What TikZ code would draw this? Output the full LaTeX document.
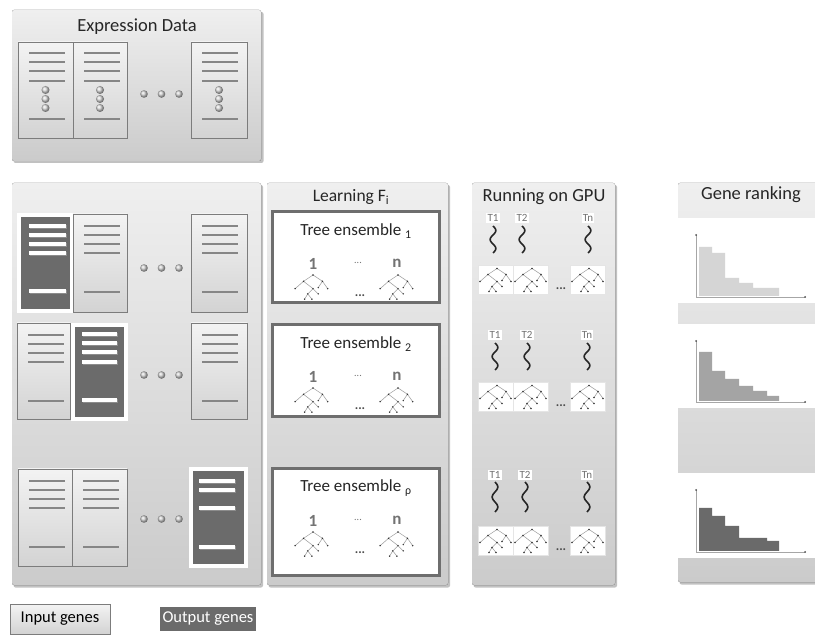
\documentclass[tikz,border=0pt]{standalone}
\usepackage{fontspec}
\setmainfont{Carlito}
\usetikzlibrary{calc}
\definecolor{cardtop}{HTML}{F3F3F3}
\definecolor{cardbot}{HTML}{D3D3D3}
\definecolor{cardedge}{HTML}{7C7C7C}
\definecolor{linegray}{HTML}{868686}
\definecolor{darkcard}{HTML}{6B6B6B}
\definecolor{paneltop}{HTML}{EFEFEF}
\definecolor{panelbot}{HTML}{CBCBCB}
\definecolor{shadowc}{HTML}{A8A8A8}
\definecolor{ensedge}{HTML}{6E6E6E}
\definecolor{barA}{HTML}{D5D5D5}
\definecolor{barB}{HTML}{A4A4A4}
\definecolor{barC}{HTML}{6A6A6A}
\tikzset{
  panel/.style={top color=paneltop, bottom color=panelbot, draw=none, rounded corners=2pt},
  shade panel/.style={fill=shadowc, draw=none, opacity=.7, rounded corners=2pt},
  litecard/.style={top color=cardtop, bottom color=cardbot, draw=cardedge, line width=.9pt},
  cline/.style={draw=linegray, line width=1.1pt},
  darkbox/.style={fill=darkcard, draw=white, line width=3.5pt},
  wbar/.style={fill=white, draw=none},
  ensbox/.style={fill=white, draw=ensedge, line width=3pt},
  treeline/.style={draw=gray!75, line width=.55pt},
  treedot/.style={fill=black!80},
  squigline/.style={draw=black!85, line width=1.6pt},
  tlab/.style={fill=white, inner sep=1.2pt, font=\fontsize{11}{12}\selectfont, text=black!55},
  title/.style={font=\fontsize{18.5}{20}\selectfont, text=black!85},
  enstitle/.style={font=\fontsize{17}{19}\selectfont, text=black!85},
  numlab/.style={font=\fontsize{17}{19}\selectfont\bfseries, text=black!55},
  dotslab/.style={font=\fontsize{10}{10}\selectfont, text=black!55},
  axisline/.style={draw=gray!70, line width=.6pt},
  treebox/.style={fill=white, draw=gray!20, line width=.4pt},
}
\newcommand{\lcard}[4]{% x, y, w, h
  \draw[litecard] (#1,#2) rectangle ++(#3,#4);
  \foreach \dy in {12,21,30,39} \draw[cline] (#1+11,#2+\dy) -- ++(36,0);
  \draw[cline] (#1+11,#2+78) -- ++(36,0);
}
\newcommand{\ecard}[3]{% x, y, w  (expression card with beads)
  \draw[litecard] (#1,#2) rectangle ++(#3,96);
  \foreach \dy in {11,20,29,39} \draw[cline] (#1+11,#2+\dy) -- ++(36,0);
  \draw[cline] (#1+11,#2+77) -- ++(36,0);
  \foreach \dy in {48,57,66} \shade[ball color=gray!30] (#1+#3/2,#2+\dy) circle (4);
}
\newcommand{\dcard}[4]{% x, y, w, h (dark output card)
  \draw[darkbox] (#1,#2) rectangle ++(#3,#4);
}
\newcommand{\wbarat}[3]{% x1, x2, ycenter
  \fill[black!45] (#1+.8,#3-1.2) rectangle (#2+.8,#3+3);
  \fill[wbar] (#1,#3-2.2) rectangle (#2,#3+2.2);
}
\newcommand{\balls}[1]{% y
  \foreach \bx in {144,161.5,179} \shade[ball color=gray!35] (\bx,#1) circle (3.8);
}
\newcommand{\mytree}[3]{% x, y, scale
  \begin{scope}[shift={(#1,#2)}, scale=#3]
    \draw[treeline] (-17,13) -- (-9,6) -- (0,0) -- (9,6) -- (14,13);
    \draw[treeline] (-9,6) -- (0,13) -- (-5,18) -- (-8,23);
    \draw[treeline] (0,13) -- (5,18);
    \draw[treeline] (9,6) -- (5,12);
    \draw[treeline] (-5,18) -- (-1,23);
    \foreach \p in {(0,0),(-9,6),(9,6),(-17,13),(0,13),(14,13),(5,12),(-5,18),(5,18),(-8,23),(-1,23)}
      \fill[treedot] \p circle (0.8);
  \end{scope}
}
\newcommand{\ensemble}[4]{% name, top y, bottom y, subscript
  \draw[ensbox] (272,#2) rectangle (439,#3);
  \node[enstitle] (#1t) at (356,#2+19) {Tree ensemble \textsubscript{#4}};
  \node[numlab] (#1a) at (313,#2+52) {1};
  \node[dotslab] (#1d) at (358,#2+51) {...};
  \node[numlab] (#1n) at (397,#2+51) {n};
  \mytree{313}{#2+63}{1.05}
  \mytree{398}{#2+63}{1.05}
  \node[font=\fontsize{13}{13}\selectfont\bfseries, text=black!70] (#1b) at (360,#2+84) {...};
}
\newcommand{\squig}[3]{% x, y1, y2
  \draw[squigline] plot[domain=0:1, samples=50, smooth] ({#1+2.8*sin(\x*540)}, {#2+\x*(#3-#2)});
}
\newcommand{\gpurow}[8]{% name, label y, squig y1, squig y2, box top, xT1, xT2, xTn
  \node[tlab] (#1a) at (#6,#2) {T1};
  \node[tlab] (#1b) at (#7,#2) {T2};
  \node[tlab] (#1c) at (#8,#2) {Tn};
  \squig{#6}{#3}{#4}
  \squig{#7}{#3}{#4}
  \squig{#8}{#3}{#4}
  \foreach \bx in {478,513,570} {
    \fill[treebox] (\bx,#5) rectangle ++(35,29);
    \mytree{\bx+19}{#5+3.5}{1}
  }
  \node[font=\fontsize{13}{13}\selectfont\bfseries, text=black!70] (#1d) at (561,#5+24) {...};
}
\begin{document}
\begin{tikzpicture}[x=1pt,y=-1pt]
\useasboundingbox (0,0) rectangle (815,636);
\fill[white] (0,0) rectangle (815,636);

% ---------- Expression data panel
\fill[shade panel] (13.5,12) rectangle (263.5,163);
\fill[panel] (12,10) rectangle (261,161);
\node[title] (exptitle) at (137,27) {Expression Data};
\ecard{18}{42}{55}
\ecard{73}{42}{54}
\ecard{191}{42}{56}
\balls{94}

% ---------- main input/output panel
\fill[shade panel] (13.5,185) rectangle (263,587.5);
\fill[panel] (12,183) rectangle (261,585);
% row 1
\dcard{19}{215}{53}{96}
\wbarat{29}{66}{226}\wbarat{29}{66}{235}\wbarat{29}{66}{244}\wbarat{29}{66}{253}\wbarat{29}{66}{291}
\lcard{73}{214}{54}{98}
\lcard{191}{214}{56}{98}
\balls{268}
% row 2
\lcard{17}{323}{53}{96}
\dcard{73}{325}{53}{94}
\wbarat{82}{117}{334}\wbarat{82}{117}{343}\wbarat{82}{117}{352}\wbarat{82}{117}{362}\wbarat{82}{117}{400}
\lcard{191}{323}{56}{96}
\balls{375}
% row 3
\lcard{18}{469}{54}{97}
\lcard{72}{469}{55}{97}
\dcard{191}{469}{55}{97}
\wbarat{199}{235}{481}\wbarat{199}{235}{490}\wbarat{199}{235}{508}\wbarat{199}{235}{547}
\balls{519}

% ---------- Learning panel
\fill[shade panel] (268.5,185) rectangle (450,587.5);
\fill[panel] (267,183) rectangle (448,585);
\node[title, font=\fontsize{17.5}{19}\selectfont] (learntitle) at (351,197) {Learning F\textsubscript{i}};
\ensemble{e1}{212}{303}{1}
\ensemble{e2}{325}{417}{2}
\ensemble{e3}{469}{576}{ρ}

% ---------- GPU panel
\fill[shade panel] (473.5,185) rectangle (617,587.5);
\fill[panel] (472,183) rectangle (615,585);
\node[title] (gputitle) at (544,197) {Running on GPU};
\gpurow{g1}{218}{226}{253}{265}{493}{522}{588}
\gpurow{g2}{335}{343}{370}{382}{495}{527}{587}
\gpurow{g3}{475}{482}{512}{526}{495}{525}{587}

% ---------- Gene ranking panel
\fill[shade panel] (679.5,185) rectangle (820,584.5);
\fill[panel] (678,183) rectangle (820,582);
\fill[white] (678,218) rectangle (820,303);
\fill[white] (678,324) rectangle (820,408);
\fill[white] (678,473) rectangle (820,558);
\node[title] (genetitle) at (751,195) {Gene ranking};
% chart 1
\fill[barA] (699,296) -- (699,247) -- (712,247) -- (712,253) -- (725,253) -- (725,278) -- (739,278) -- (739,283) -- (753,283) -- (753,288) -- (779,288) -- (779,296) -- cycle;
\draw[axisline] (696,235) -- (696,297) -- (805,297);
\fill[black!70] (696,235) circle (1) (805,297) circle (1);
% chart 2
\fill[barB] (699,401) -- (699,352) -- (712,352) -- (712,371) -- (725,371) -- (725,379) -- (739,379) -- (739,386) -- (753,386) -- (753,391) -- (767,391) -- (767,396) -- (779,396) -- (779,401) -- cycle;
\draw[axisline] (696,341) -- (696,402) -- (805,402);
\fill[black!70] (696,341) circle (1) (805,402) circle (1);
% chart 3
\fill[barC] (699,551) -- (699,508) -- (712,508) -- (712,516) -- (725,516) -- (725,526) -- (739,526) -- (739,538) -- (767,538) -- (767,541) -- (779,541) -- (779,551) -- cycle;
\draw[axisline] (696,490) -- (696,552) -- (805,552);
\fill[black!70] (696,490) circle (1) (805,552) circle (1);

% ---------- legend
\draw[litecard] (10,604) rectangle (110,634);
\node[font=\fontsize{16.5}{18}\selectfont, text=black] (inlab) at (60,619) {Input genes};
\draw[fill=darkcard, draw=white, line width=2pt] (159,606) rectangle (257,632);
\node[font=\fontsize{16.5}{18}\selectfont, text=white] (outlab) at (208,619) {Output genes};
\end{tikzpicture}
\end{document}
